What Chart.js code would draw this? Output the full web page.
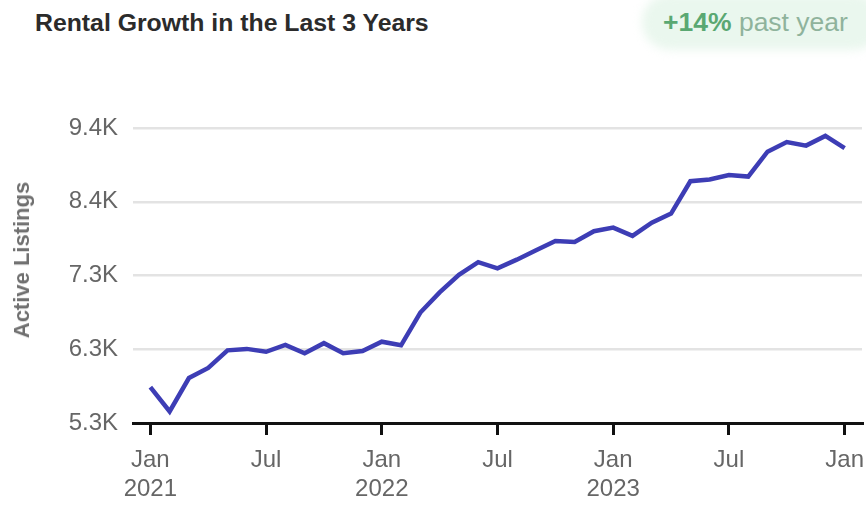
<!DOCTYPE html>
<html>
<head>
<meta charset="utf-8">
<script src="https://cdn.jsdelivr.net/npm/chart.js@4"></script>
<style>
  html, body { margin:0; padding:0; background:#fff; overflow:hidden; }
  #wrap { position:relative; width:866px; height:508px; }
  #title { position:absolute; left:35px; top:9px; font-family:"Liberation Sans", Arial, sans-serif; font-weight:bold; font-size:24.8px; color:#2b2b2b; white-space:nowrap; }
  #badgeBg { position:absolute; left:642px; top:-6px; width:240px; height:56px; border-radius:28px; background:#eaf7ee; filter:blur(5px); }
  #badge { position:absolute; left:663px; top:7px; font-family:"Liberation Sans", Arial, sans-serif; font-size:26.5px; white-space:nowrap; }
  #badge b { color:#5aa872; }
  #badge span { color:#8fb39c; }
  #ytitle { position:absolute; left:22px; top:260px; transform:translate(-50%,-50%) rotate(-90deg); font-family:"Liberation Sans", Arial, sans-serif; font-weight:bold; font-size:22px; color:#707070; white-space:nowrap; }
  canvas { position:absolute; left:0; top:0; }
</style>
</head>
<body>
<div id="wrap">
  <div id="badgeBg"></div>
  <div id="title">Rental Growth in the Last 3 Years</div>
  <div id="badge"><b>+14%</b> <span>past year</span></div>
  <canvas id="c" width="866" height="508"></canvas>
  <div id="ytitle">Active Listings</div>
</div>
<script>
const months = ['2021-01','2021-02','2021-03','2021-04','2021-05','2021-06','2021-07','2021-08','2021-09','2021-10','2021-11','2021-12',
                '2022-01','2022-02','2022-03','2022-04','2022-05','2022-06','2022-07','2022-08','2022-09','2022-10','2022-11','2022-12',
                '2023-01','2023-02','2023-03','2023-04','2023-05','2023-06','2023-07','2023-08','2023-09','2023-10','2023-11','2023-12',
                '2024-01'];
const listings = [5800,5460,5925,6065,6310,6330,6290,6385,6270,6410,6270,6300,
                  6430,6380,6835,7115,7360,7535,7450,7570,7700,7830,7815,7965,
                  8015,7900,8085,8210,8660,8685,8745,8725,9070,9205,9155,9290,
                  9120];
const xTickValues = [0,6,12,18,24,30,36];
const xTickLabels = [['Jan','2021'],'Jul',['Jan','2022'],'Jul',['Jan','2023'],'Jul','Jan'];
const yTickValues = [5300,6325,7350,8375,9400];
const yTickLabels = ['5.3K','6.3K','7.3K','8.4K','9.4K'];

const points = listings.map((v, i) => ({ x: i, y: v }));
const tickFont = { family: '"Liberation Sans", Arial, sans-serif', size: 24 };

new Chart(document.getElementById('c'), {
  type: 'line',
  data: {
    datasets: [{
      label: 'Active Listings',
      data: points,
      borderColor: '#3d3db5',
      borderWidth: 4.5,
      pointRadius: 0,
      tension: 0,
      fill: false
    }]
  },
  options: {
    responsive: false,
    animation: false,
    devicePixelRatio: 1,
    layout: { padding: { left: 5, right: 4, top: 128, bottom: 0 } },
    plugins: { legend: { display: false }, tooltip: { enabled: false } },
    scales: {
      x: {
        type: 'linear',
        min: -0.9,
        max: 36.9,
        afterBuildTicks: (s) => { s.ticks = xTickValues.map(v => ({ value: v })); },
        afterFit: (s) => { s.height = 85; s.paddingLeft = 0; s.paddingRight = 0; },
        ticks: {
          autoSkip: false,
          maxRotation: 0,
          padding: 11,
          color: '#666',
          font: tickFont,
          callback: (v) => { const i = xTickValues.indexOf(v); return i >= 0 ? xTickLabels[i] : ''; }
        },
        grid: { drawOnChartArea: false, drawTicks: true, tickLength: 12, color: '#111', lineWidth: 3 },
        border: { display: true, color: '#111', width: 3 }
      },
      y: {
        min: 5300,
        max: 9400,
        afterBuildTicks: (s) => { s.ticks = yTickValues.map(v => ({ value: v })); },
        afterFit: (s) => { s.width = 128; s.paddingTop = 0; s.paddingBottom = 0; },
        ticks: {
          padding: 15,
          color: '#666',
          font: tickFont,
          callback: (v) => { const i = yTickValues.indexOf(v); return i >= 0 ? yTickLabels[i] : ''; }
        },
        grid: { drawTicks: false, color: '#e3e3e3', lineWidth: 2.5 },
        border: { display: false }
      }
    }
  }
});
</script>
</body>
</html>
